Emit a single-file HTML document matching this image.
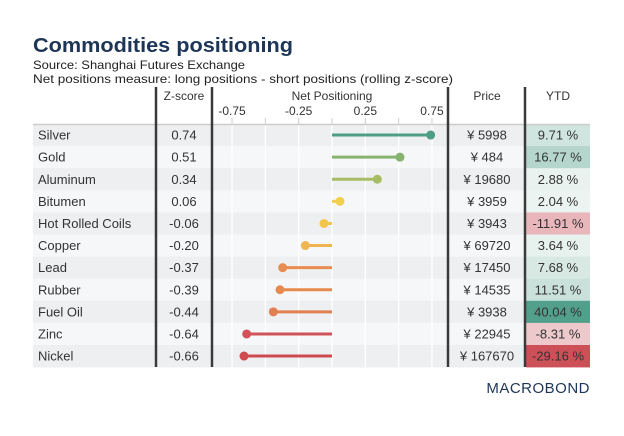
<!DOCTYPE html>
<html><head><meta charset="utf-8"><style>
body{margin:0;background:#fff;font-family:"Liberation Sans",sans-serif;}
</style></head><body>
<svg width="624" height="431" viewBox="0 0 624 431" xmlns="http://www.w3.org/2000/svg">
<text x="33" y="52" font-size="20" font-weight="bold" fill="#1d3557" textLength="260" lengthAdjust="spacingAndGlyphs">Commodities positioning</text>
<text x="33" y="69" font-size="12" fill="#222" textLength="212" lengthAdjust="spacingAndGlyphs">Source: Shanghai Futures Exchange</text>
<text x="33" y="83" font-size="12" fill="#222" textLength="420" lengthAdjust="spacingAndGlyphs">Net positions measure: long positions - short positions (rolling z-score)</text>
<g id="rows"></g>
<g id="grid"></g>
<g id="marks"></g>
<g id="heads" font-size="12" fill="#333" text-anchor="middle">
<text x="184" y="100">Z-score</text>
<text x="332" y="100">Net Positioning</text>
<text x="487" y="100">Price</text>
<text x="558" y="100">YTD</text>
</g>
<line x1="33" y1="124.5" x2="590" y2="124.5" stroke="#ccc" stroke-width="1.5"/>
<g stroke="#3a3a3a" stroke-width="2.5">
<line x1="156" y1="87" x2="156" y2="367"/>
<line x1="212" y1="87" x2="212" y2="367"/>
<line x1="448" y1="87" x2="448" y2="367"/>
<line x1="525" y1="87" x2="525" y2="367"/>
</g>
<text x="590" y="393" font-size="15" fill="#1d3557" text-anchor="end" letter-spacing="0.5">MACROBOND</text>
</svg>
<script>
const names=["Silver","Gold","Aluminum","Bitumen","Hot Rolled Coils","Copper","Lead","Rubber","Fuel Oil","Zinc","Nickel"];
const zscores=[0.74,0.51,0.34,0.06,-0.06,-0.20,-0.37,-0.39,-0.44,-0.64,-0.66];
const prices=["5998","484","19680","3959","3943","69720","17450","14535","3938","22945","167670"];
const ytd=[9.71,16.77,2.88,2.04,-11.91,3.64,7.68,11.51,40.04,-8.31,-29.16];
const tickVals=[-0.75,-0.25,0.25,0.75];
const gridVals=[-0.75,-0.5,-0.25,0,0.25,0.5,0.75];
const lineColors=["#4e9e86","#86b46f","#a8bd63","#f1d04d","#f2c64c","#f0b553","#e88d52","#e68a50","#e27f50","#d2535a","#cd4a4f"];
const NS="http://www.w3.org/2000/svg";
const x0=332,unit=133.3,top0=124,rh=22.1;
const xs=v=>x0+v*unit, ys=i=>top0+i*rh;
function mk(t,a,p){const e=document.createElementNS(NS,t);for(const k in a)e.setAttribute(k,a[k]);p.appendChild(e);return e;}
const rows=document.getElementById('rows'),grid=document.getElementById('grid'),marks=document.getElementById('marks'),heads=document.getElementById('heads');
function ytdColor(v){
  if(v>=0){const t=Math.min(v/40.04,1);const c0=[242,247,245],c1=[82,160,140];return `rgb(${c0.map((c,j)=>Math.round(c+(c1[j]-c)*Math.pow(t,1.1))).join(',')})`;}
  const t=Math.min(-v/29.16,1);const c0=[246,230,232],c1=[205,80,88];return `rgb(${c0.map((c,j)=>Math.round(c+(c1[j]-c)*Math.pow(t,1.3))).join(',')})`;
}
names.forEach((n,i)=>{
  const y=ys(i);
  const r=mk('rect',{x:33,y:y,width:492,height:rh+0.3,fill:i%2?'#f6f7f8':'#eeeff1'},rows);
  
  
  const yr=mk('rect',{x:526,y:y,width:64,height:rh+0.3,fill:ytdColor(ytd[i])},rows);
  
  
  const cy=y+rh/2+4.5;
  const t1=mk('text',{x:38,y:cy,'font-size':13,fill:'#333'},rows);t1.textContent=n;
  
  
  const t2=mk('text',{x:184,y:cy,'font-size':13,fill:'#333','text-anchor':'middle'},rows);t2.textContent=zscores[i].toFixed(2);
  
  
  const t3=mk('text',{x:487,y:cy,'font-size':13,fill:'#333','text-anchor':'middle'},rows);t3.textContent='¥ '+prices[i];
  
  
  const t4=mk('text',{x:558,y:cy,'font-size':13,fill:'#333','text-anchor':'middle'},rows);t4.textContent=ytd[i].toFixed(2)+' %';
  
  
});
gridVals.forEach(v=>{
  const g=mk('line',{x1:xs(v),x2:xs(v),y1:118,y2:367,stroke:'#fff','stroke-width':1.3},grid);
  
  
  const tk=mk('line',{x1:xs(v),x2:xs(v),y1:118,y2:124,stroke:'#ccc','stroke-width':1},grid);
  
  
});
tickVals.forEach(v=>{
  const t=mk('text',{x:xs(v),y:115,'font-size':12,fill:'#333','text-anchor':'middle'},heads);t.textContent=v.toFixed(2);
  
  
});
zscores.forEach((v,i)=>{
  const cy=ys(i)+rh/2;
  const l=mk('line',{x1:xs(0),x2:xs(v),y1:cy,y2:cy,stroke:lineColors[i],'stroke-width':3},marks);
  
  
  const c=mk('circle',{cx:xs(v),cy:cy,r:4.5,fill:lineColors[i]},marks);
  
  
});
</script>
</body></html>
